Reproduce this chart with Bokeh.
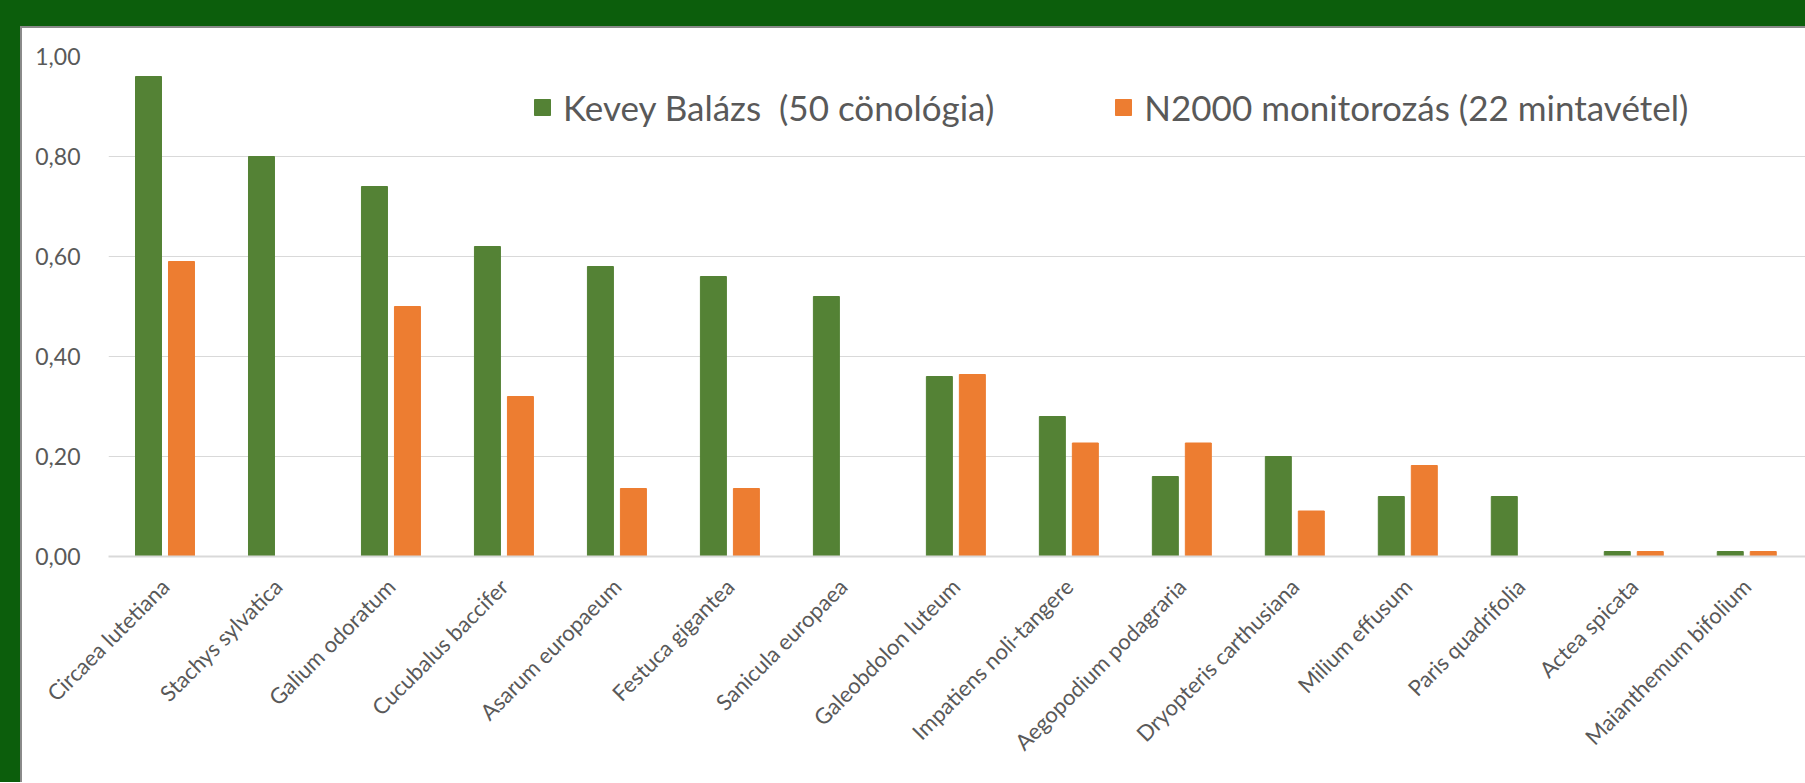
from bokeh.plotting import figure
from bokeh.models import (Range1d, FixedTicker, CustomJSTickFormatter, Legend, LegendItem,
                          ColumnDataSource, Spacer)
from bokeh.layouts import row, column
from bokeh.transform import dodge
from bokeh.embed import file_html
from bokeh.resources import INLINE

categories = ["Circaea lutetiana", "Stachys sylvatica", "Galium odoratum", "Cucubalus baccifer",
              "Asarum europaeum", "Festuca gigantea", "Sanicula europaea", "Galeobdolon luteum",
              "Impatiens noli-tangere", "Aegopodium podagraria", "Dryopteris carthusiana",
              "Milium effusum", "Paris quadrifolia", "Actea spicata", "Maianthemum bifolium"]
kevey = [0.96, 0.80, 0.74, 0.62, 0.58, 0.56, 0.52, 0.36, 0.28, 0.16, 0.20, 0.12, 0.12, 0.01, 0.01]
n2000 = [0.59, 0.0, 0.50, 0.32, 0.136, 0.136, 0.0, 0.364, 0.227, 0.227, 0.091, 0.182, 0.0, 0.01, 0.01]
series_names = ["Kevey Balázs  (50 cönológia)", "N2000 monitorozás (22 mintavétel)"]
y_ticks = [0.0, 0.2, 0.4, 0.6, 0.8, 1.0]

GREEN = "#548235"
ORANGE = "#ED7D31"
BG = "#0c5e0c"
GRAY = "#8a8a8a"
TXT = "#595959"
FONT = "Lato"

src = ColumnDataSource(dict(x=list(range(len(categories))), a=kevey, b=n2000))

p = figure(width=1783, height=754, x_range=Range1d(-0.5, 14.52), y_range=Range1d(0, 1),
           output_backend="svg", toolbar_location=None,
           min_border_left=86, min_border_right=0, min_border_top=28, min_border_bottom=226)
p.outline_line_color = None
p.background_fill_color = "white"
p.border_fill_color = "white"

r1 = p.vbar(x=dodge("x", -0.146, range=p.x_range), top="a", width=0.23, source=src,
            fill_color=GREEN, line_color=GREEN)
r2 = p.vbar(x=dodge("x", 0.146, range=p.x_range), top="b", width=0.23, source=src,
            fill_color=ORANGE, line_color=ORANGE)

p.xgrid.visible = False
p.ygrid.ticker = FixedTicker(ticks=y_ticks)
p.ygrid.grid_line_color = "#D9D9D9"
p.ygrid.grid_line_width = 1

p.yaxis.ticker = FixedTicker(ticks=y_ticks)
p.yaxis.formatter = CustomJSTickFormatter(code="return tick.toFixed(2).replace('.', ',');")
p.yaxis.axis_line_color = None
p.yaxis.major_tick_line_color = None
p.yaxis.minor_tick_line_color = None
p.yaxis.major_label_text_font = FONT
p.yaxis.major_label_text_font_size = "23px"
p.yaxis.major_label_text_color = TXT
p.yaxis.major_label_standoff = 22

p.xaxis.ticker = FixedTicker(ticks=list(range(len(categories))))
p.xaxis.major_label_overrides = {i: c for i, c in enumerate(categories)}
p.xaxis.major_label_orientation = 0.785398
p.xaxis.axis_line_color = "#D9D9D9"
p.xaxis.axis_line_width = 2
p.xaxis.major_tick_line_color = None
p.xaxis.minor_tick_line_color = None
p.xaxis.major_label_text_font = FONT
p.xaxis.major_label_text_font_size = "22px"
p.xaxis.major_label_text_color = TXT
p.xaxis.major_label_standoff = 20

legend = Legend(items=[LegendItem(label=series_names[0], renderers=[r1]),
                       LegendItem(label=series_names[1], renderers=[r2])],
                orientation="horizontal", location=(424, 428))
legend.label_text_font = FONT
legend.label_text_font_size = "35px"
legend.label_text_color = TXT
legend.glyph_width = 20
legend.glyph_height = 20
legend.label_standoff = 11
legend.label_height = 40
legend.spacing = 119
legend.padding = 0
legend.margin = 0
legend.border_line_color = None
legend.background_fill_alpha = 0
p.add_layout(legend, "center")

gs = {"background-color": GRAY}
gb = {"background-color": BG}
framed = row(Spacer(width=2, height=756, styles=gs),
             column(Spacer(width=1783, height=2, styles=gs), p))
inner = column(Spacer(width=1785, height=26, styles=gb), framed)
layout = row(Spacer(width=20, height=782, styles=gb), inner)

open("out.html", "w").write(file_html(layout, INLINE))
